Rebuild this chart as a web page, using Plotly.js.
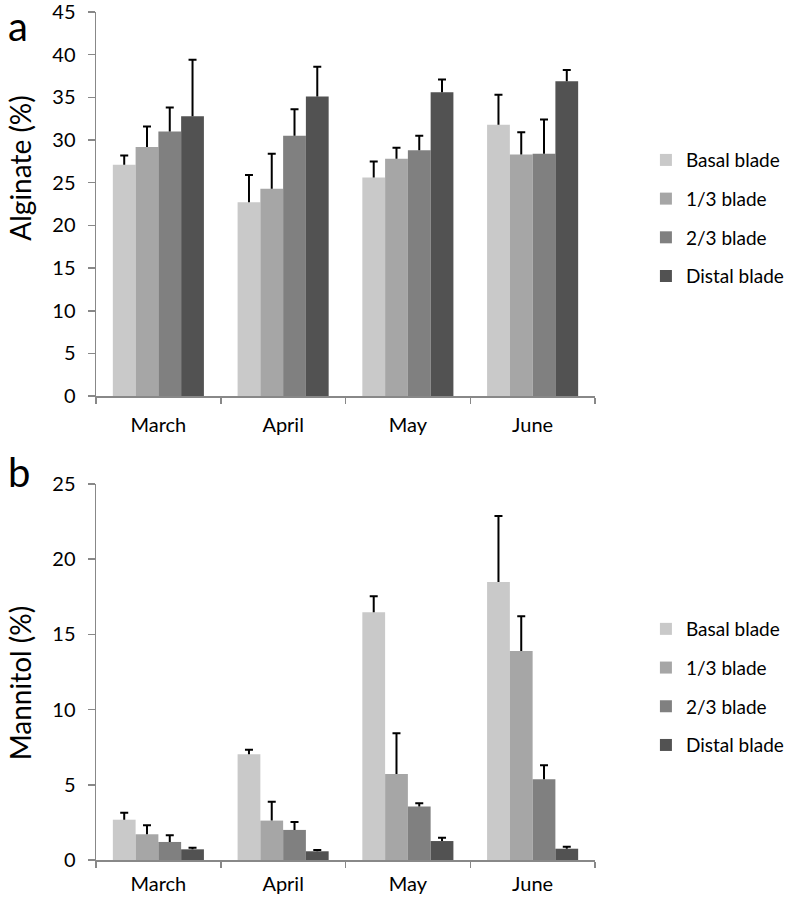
<!DOCTYPE html>
<html>
<head>
<meta charset="utf-8">
<script src="https://cdn.plot.ly/plotly-3.0.1.min.js"></script>
<style>html,body{margin:0;padding:0;background:#fff;}#chart{width:788px;height:898px;}</style>
</head>
<body>
<div id="chart"></div>
<script>
const months = ["March", "April", "May", "June"];
const seriesNames = ["Basal blade", "1/3 blade", "2/3 blade", "Distal blade"];
const seriesColors = ["#c9c9c9", "#a6a6a6", "#808080", "#525252"];

// Panel a: Alginate (%)
const alginateBasal = [27.1, 22.7, 25.6, 31.8];
const alginateThird = [29.2, 24.3, 27.8, 28.3];
const alginateTwoThird = [31.0, 30.5, 28.8, 28.4];
const alginateDistal = [32.8, 35.1, 35.6, 36.9];
const alginateBasalErr = [1.1, 3.2, 1.9, 3.5];
const alginateThirdErr = [2.4, 4.1, 1.3, 2.6];
const alginateTwoThirdErr = [2.8, 3.1, 1.7, 4.0];
const alginateDistalErr = [6.6, 3.5, 1.5, 1.3];

// Panel b: Mannitol (%)
const mannitolBasal = [2.68, 7.03, 16.48, 18.48];
const mannitolThird = [1.71, 2.62, 5.72, 13.9];
const mannitolTwoThird = [1.2, 2.0, 3.55, 5.37];
const mannitolDistal = [0.71, 0.58, 1.26, 0.75];
const mannitolBasalErr = [0.47, 0.3, 1.06, 4.4];
const mannitolThirdErr = [0.6, 1.26, 2.7, 2.3];
const mannitolTwoThirdErr = [0.44, 0.53, 0.22, 0.93];
const mannitolDistalErr = [0.1, 0.09, 0.22, 0.13];

const alginateVals = [alginateBasal, alginateThird, alginateTwoThird, alginateDistal];
const alginateErrs = [alginateBasalErr, alginateThirdErr, alginateTwoThirdErr, alginateDistalErr];
const mannitolVals = [mannitolBasal, mannitolThird, mannitolTwoThird, mannitolDistal];
const mannitolErrs = [mannitolBasalErr, mannitolThirdErr, mannitolTwoThirdErr, mannitolDistalErr];

const FONT = "Lato, 'Open Sans', sans-serif";
const traces = [];
function addPanel(vals, errs, xa, ya, legendId, prefix) {
  vals.forEach((v, i) => {
    traces.push({
      type: "bar",
      x: months,
      y: v,
      name: seriesNames[i],
      xaxis: xa,
      yaxis: ya,
      legend: legendId,
      legendgroup: prefix + i,
      marker: {color: seriesColors[i], line: {width: 0}},
      error_y: {type: "data", symmetric: false, array: errs[i], arrayminus: errs[i].map(() => 0),
                color: "#000", thickness: 2, width: 4},
      hoverinfo: "y"
    });
  });
}
addPanel(alginateVals, alginateErrs, "x", "y", "legend", "a");
addPanel(mannitolVals, mannitolErrs, "x2", "y2", "legend2", "b");

const axisCommon = {
  showline: true, linecolor: "#888888", linewidth: 1.5,
  showgrid: false, zeroline: false,
  ticks: "outside", tickcolor: "#888888", tickwidth: 1.5,
  ticklabeloverflow: "allow",
  tickfont: {family: FONT, size: 20, color: "#000"}
};
const legendCommon = {
  font: {family: FONT, size: 19, color: "#000"},
  xanchor: "left", yanchor: "middle", x: 1.076,
  traceorder: "grouped", tracegroupgap: 11,
  bgcolor: "rgba(0,0,0,0)", itemclick: false
};

const layout = {
  width: 788, height: 898,
  margin: {l: 96, r: 152, t: 12, b: 38},
  paper_bgcolor: "#fff", plot_bgcolor: "#fff",
  barmode: "group", bargap: 0.27, bargroupgap: 0,
  showlegend: true,
  font: {family: FONT, color: "#000"},
  xaxis: Object.assign({}, axisCommon, {anchor: "y", domain: [0, 1], tickson: "boundaries", ticklen: 6, ticklabelstandoff: 10}),
  yaxis: Object.assign({}, axisCommon, {anchor: "x", domain: [0.547, 1], range: [0, 45], dtick: 5, ticklen: 7,
    ticklabelstandoff: 8}),
  xaxis2: Object.assign({}, axisCommon, {anchor: "y2", domain: [0, 1], tickson: "boundaries", ticklen: 6, ticklabelstandoff: 5}),
  yaxis2: Object.assign({}, axisCommon, {anchor: "x2", domain: [0, 0.4434], range: [0, 25], dtick: 5, ticklen: 7,
    ticklabelstandoff: 8}),
  legend: Object.assign({}, legendCommon, {y: 0.757}),
  legend2: Object.assign({}, legendCommon, {y: 0.204}),
  annotations: [
    {text: "Alginate (%)", textangle: -90, xref: "paper", yref: "paper", x: -0.153, y: 0.816,
     xanchor: "center", yanchor: "middle", showarrow: false, font: {family: FONT, size: 28, color: "#000"}},
    {text: "Mannitol (%)", textangle: -90, xref: "paper", yref: "paper", x: -0.153, y: 0.208,
     xanchor: "center", yanchor: "middle", showarrow: false, font: {family: FONT, size: 28, color: "#000"}},
    {text: "a", xref: "paper", yref: "paper", x: -0.18, y: 1.0141, xanchor: "left", yanchor: "top",
     showarrow: false, font: {family: FONT, size: 40, color: "#000"}},
    {text: "b", xref: "paper", yref: "paper", x: -0.18, y: 0.4434 + 0.045, xanchor: "left", yanchor: "top",
     showarrow: false, font: {family: FONT, size: 40, color: "#000"}}
  ]
};

Plotly.newPlot("chart", traces, layout, {displayModeBar: false, staticPlot: true}).then(() => {
  // Keep only the upper half of each error bar (remove the lower cap at the bar top)
  document.querySelectorAll("#chart path.yerror").forEach(p => {
    const d = p.getAttribute("d");
    if (d) p.setAttribute("d", d.replace(/m-[\d.]+,0h[\d.]+$/, ""));
  });
  // Nudge legends right (Plotly clamps them inside the figure width)
  document.querySelectorAll("#chart g.legend, #chart g.legend2").forEach(g => {
    const t = g.getAttribute("transform") || "";
    const m = t.match(/translate\(\s*([-\d.]+)[ ,]+([-\d.]+)\s*\)/);
    if (m) g.setAttribute("transform", "translate(" + (parseFloat(m[1]) + 13) + "," + m[2] + ")");
  });
});
</script>
</body>
</html>
